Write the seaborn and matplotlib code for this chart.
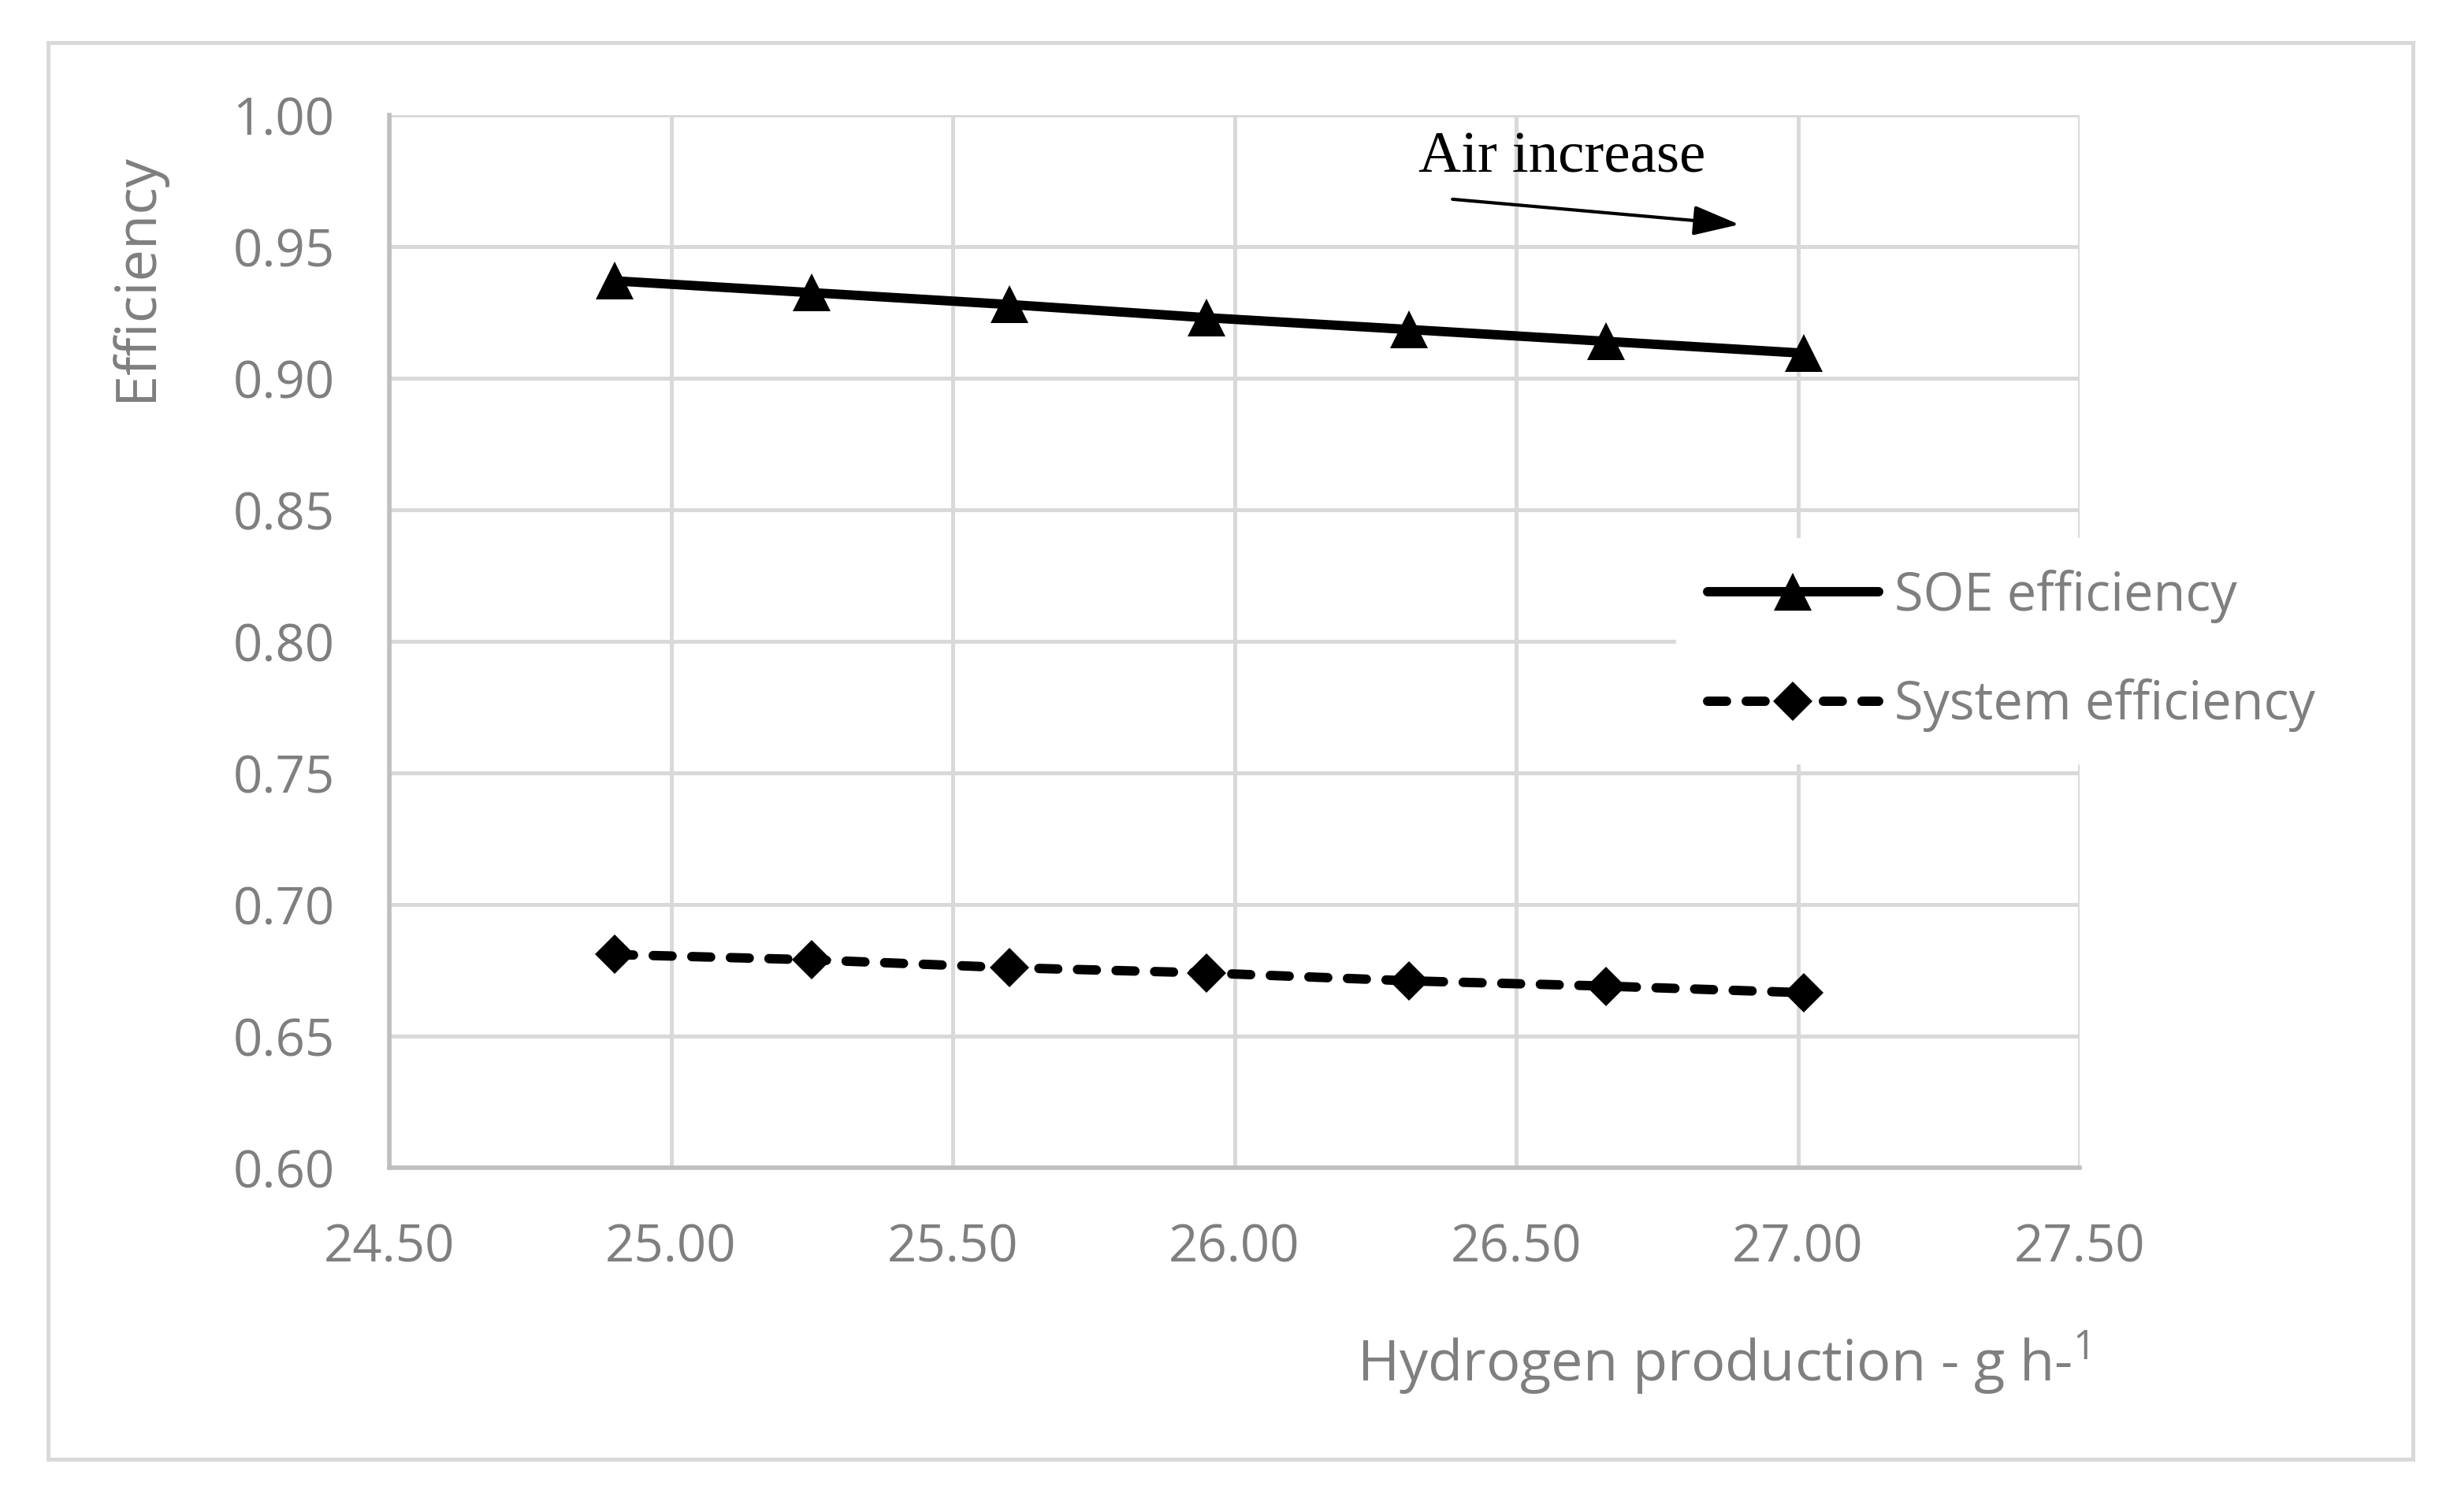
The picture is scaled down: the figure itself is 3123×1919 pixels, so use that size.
import matplotlib
matplotlib.use("Agg")
import matplotlib.pyplot as plt
import seaborn as sns
import pandas as pd
from matplotlib.patches import Rectangle

# ---- data ----
h2_production = [24.90, 25.25, 25.60, 25.95, 26.31, 26.66, 27.01]
soe_efficiency = [0.937, 0.9325, 0.928, 0.923, 0.9185, 0.914, 0.9095]
system_efficiency = [0.681, 0.679, 0.676, 0.674, 0.671, 0.669, 0.6665]
x_ticks = [24.50, 25.00, 25.50, 26.00, 26.50, 27.00, 27.50]
y_ticks = [0.60, 0.65, 0.70, 0.75, 0.80, 0.85, 0.90, 0.95, 1.00]
series_names = ["SOE efficiency", "System efficiency"]

sns.set_theme(style="white")
plt.rcParams["font.family"] = ["Open Sans", "DejaVu Sans"]

W, H = 3123, 1919
fig = plt.figure(figsize=(W / 100, H / 100), dpi=100)
ax = fig.add_axes([494 / W, 1 - 1482 / H, (2639 - 494) / W, (1482 - 146) / H])

df_soe = pd.DataFrame({"x": h2_production, "y": soe_efficiency})
df_sys = pd.DataFrame({"x": h2_production, "y": system_efficiency})

sns.lineplot(data=df_soe, x="x", y="y", ax=ax, color="black", linewidth=8.6,
             marker="^", markersize=35, markeredgewidth=0, label=series_names[0],
             solid_capstyle="round", zorder=5)
sns.lineplot(data=df_sys, x="x", y="y", ax=ax, color="black", linewidth=8.6,
             marker="D", markersize=25, markeredgewidth=0, label=series_names[1],
             linestyle=(0, (2.0, 2.1)), dash_capstyle="round", zorder=5)

ax.set_xlim(24.5, 27.5)
ax.set_ylim(0.6, 1.0)
ax.set_xticks(x_ticks)
ax.set_yticks(y_ticks)
ax.set_xticklabels([f"{v:.2f}" for v in x_ticks])
ax.set_yticklabels([f"{v:.2f}" for v in y_ticks])
ax.tick_params(axis="both", length=0, labelsize=47, labelcolor="#7f7f7f")
ax.tick_params(axis="y", pad=50)
ax.tick_params(axis="x", pad=50)

ax.grid(True, color="#d9d9d9", linewidth=3.6)
ax.set_axisbelow(True)
for s in ["top", "right"]:
    ax.spines[s].set_visible(False)
for s in ["left", "bottom"]:
    ax.spines[s].set_color("#bfbfbf")
    ax.spines[s].set_linewidth(4.0)
    ax.spines[s].set_zorder(3)

ax.set_xlabel("")
ax.set_ylabel("")
fig.text(173 / W, 1 - 351 / H, "Efficiency", rotation=90, ha="center", va="center",
         fontsize=52, color="#7f7f7f")
fig.text(2650 / W, 1 - 1753 / H, "Hydrogen production - g h-$^{\\mathregular{1}}$",
         ha="right", va="baseline", fontsize=52, color="#7f7f7f")

# annotation
ax.annotate("", xy=(26.896, 0.9584), xytext=(26.387, 0.968),
            arrowprops=dict(arrowstyle="-|>,head_length=0.4,head_width=0.13",
                            mutation_scale=90, lw=3, color="black",
                            shrinkA=0, shrinkB=0))
ax.text(26.581, 0.9835, "Air increase", ha="center", va="center",
        fontsize=54, family=["Liberation Serif", "DejaVu Serif"], color="black")

leg = ax.legend(loc="center left", bbox_to_anchor=(2127 / W, 1 - 826 / H),
                bbox_transform=fig.transFigure, fontsize=48, frameon=True,
                fancybox=False, edgecolor="white", facecolor="white", framealpha=1,
                handlelength=3.25, handletextpad=0.3, labelspacing=1.06,
                borderpad=0.6, borderaxespad=0)
for t in leg.get_texts():
    t.set_color("#7f7f7f")
leg.set_zorder(10)

fig.patches.append(Rectangle((61 / W, 1 - 1852 / H), (3062 - 61) / W, (1852 - 54) / H,
                             transform=fig.transFigure, fill=False,
                             edgecolor="#d9d9d9", linewidth=3.6))

fig.savefig("out.png", dpi=100, facecolor="white")
